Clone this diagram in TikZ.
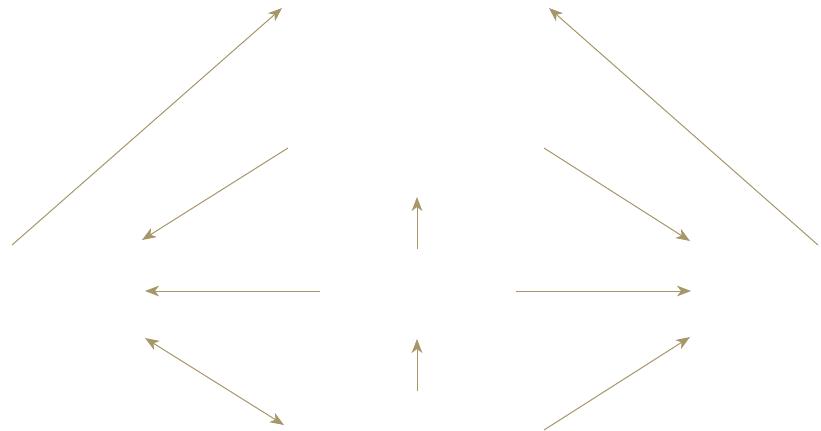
\documentclass[tikz,border=0pt]{standalone}
\usetikzlibrary{arrows.meta}

\definecolor{khaki}{RGB}{166,150,104}
\tikzset{every picture/.style={line width=0.75pt}}
\tikzset{
arw/.style={draw=khaki, line width=0.75pt, -{Stealth[length=10.5pt,width=8pt,inset=3pt]}},
dblarw/.style={draw=khaki, line width=0.75pt, {Stealth[length=10.5pt,width=8pt,inset=3pt]}-{Stealth[length=10.5pt,width=8pt,inset=3pt]}}}

\begin{document}
\begin{tikzpicture}[x=0.75pt,y=0.75pt,yscale=-1,xscale=1]
\useasboundingbox (0,0) rectangle (821,430);

%Coordinates
\coordinate (ulA) at (12,245);   \coordinate (ulB) at (282,8);
\coordinate (lmA) at (288,148);  \coordinate (lmB) at (142,240);
\coordinate (lhA) at (320,291);  \coordinate (lhB) at (145,291);
\coordinate (llA) at (145,338);  \coordinate (llB) at (284,425);
\coordinate (cuA) at (417,249);  \coordinate (cuB) at (417,197);
\coordinate (clA) at (417,391);  \coordinate (clB) at (417,339);
\coordinate (rhA) at (516,291);  \coordinate (rhB) at (691,291);
\coordinate (rmA) at (544,148);  \coordinate (rmB) at (690,241);
\coordinate (urA) at (818,245);  \coordinate (urB) at (549,8);
\coordinate (lrA) at (544,430);  \coordinate (lrB) at (690,337);

%Straight Lines
\draw [arw] (ulA) -- (ulB) ;
\draw [arw] (lmA) -- (lmB) ;
\draw [arw] (lhA) -- (lhB) ;
\draw [dblarw] (llA) -- (llB) ;
\draw [arw] (cuA) -- (cuB) ;
\draw [arw] (clA) -- (clB) ;
\draw [arw] (rhA) -- (rhB) ;
\draw [arw] (rmA) -- (rmB) ;
\draw [arw] (urA) -- (urB) ;
\draw [arw] (lrA) -- (lrB) ;

\end{tikzpicture}
\end{document}
